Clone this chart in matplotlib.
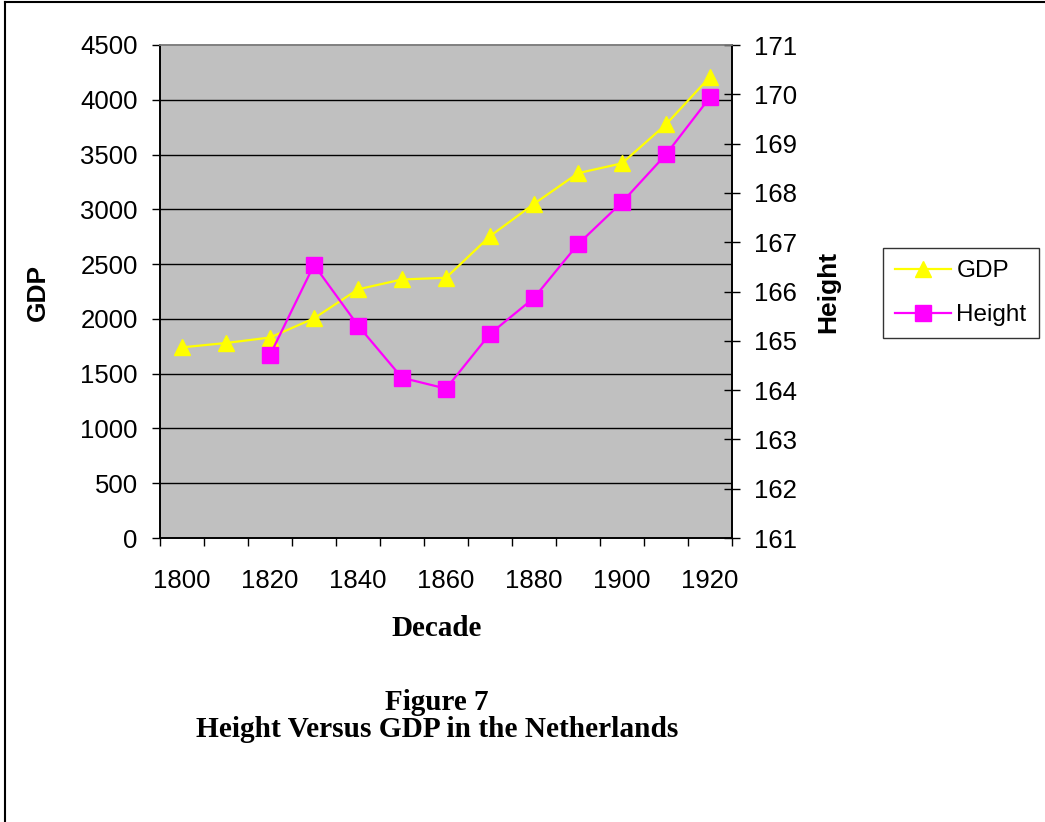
import matplotlib
matplotlib.use('Agg')
import matplotlib.pyplot as plt
from matplotlib.lines import Line2D
import numpy as np

# data
decades = [1800, 1810, 1820, 1830, 1840, 1850, 1860, 1870, 1880, 1890, 1900, 1910, 1920]
gdp = [1740, 1780, 1830, 2005, 2270, 2360, 2375, 2755, 3050, 3330, 3420, 3775, 4210]
height = [np.nan, np.nan, 164.71, 166.54, 165.31, 164.25, 164.03, 165.14, 165.87,
          166.96, 167.81, 168.78, 169.94]
gdp_ticks = list(range(0, 4501, 500))
height_ticks = list(range(161, 172))

W, H = 1045, 822
plt.rcParams['font.family'] = ['Liberation Sans', 'DejaVu Sans']

fig = plt.figure(figsize=(W / 100, H / 100), dpi=100)
fig.patch.set_facecolor('white')

# plot area in pixels: x 160..732, y 45..538
ax = fig.add_axes([160 / W, 1 - 538 / H, 572 / W, 493 / H])
ax.set_facecolor('#C0C0C0')
x = np.arange(len(decades))

ax.set_xlim(-0.5, len(decades) - 0.5)
ax.set_ylim(0, 4500)
ax.set_yticks(gdp_ticks)
ax.set_yticklabels([str(v) for v in gdp_ticks], fontsize=18.5)
for v in gdp_ticks[1:-1]:
    ax.axhline(v, color='black', lw=1.0, zorder=1)

# ticks at category boundaries, labels every other decade at the centres
ax.set_xticks(np.arange(-0.5, len(decades), 1.0))
ax.set_xticklabels([])
ax.set_xticks(x[::2], minor=True)
ax.set_xticklabels([str(d) for d in decades[::2]], minor=True, fontsize=18.5)
ax.tick_params(axis='x', which='major', direction='out', length=6, width=1)
ax.tick_params(axis='x', which='minor', length=0, pad=22)
ax.tick_params(axis='y', direction='out', length=6, width=1, pad=10)

ax.plot(x, gdp, color='#FFFF00', lw=1.6, marker='^', ms=11, mec='#FFFF00',
        zorder=3, clip_on=False)

ax2 = ax.twinx()
ax2.set_ylim(161, 171)
ax2.set_yticks(height_ticks)
ax2.set_yticklabels([str(v) for v in height_ticks], fontsize=18.5)
ax2.tick_params(axis='y', direction='inout', length=12, width=1, pad=10)
ax2.plot(x, height, color='#FF00FF', lw=1.6, marker='s', ms=11, mec='#FF00FF',
         zorder=3, clip_on=False)

for a in (ax, ax2):
    for side in ('left', 'right', 'bottom'):
        a.spines[side].set_color('black')
        a.spines[side].set_linewidth(1.2)
    a.spines['top'].set_color('#808080')
    a.spines['top'].set_linewidth(1.2)

# axis titles
fig.text(38 / W, 1 - 292 / H, 'GDP', rotation=90, ha='center', va='center',
         fontsize=19, fontweight='bold')
fig.text(828 / W, 1 - 292 / H, 'Height', rotation=90, ha='center', va='center',
         fontsize=19, fontweight='bold')
serif = ['Liberation Serif', 'DejaVu Serif']
fig.text(437 / W, 1 - 636 / H, 'Decade', ha='center', va='baseline',
         fontsize=21, fontweight='bold', family=serif)
fig.text(437 / W, 1 - 710 / H, 'Figure 7', ha='center', va='baseline',
         fontsize=21, fontweight='bold', family=serif)
fig.text(437 / W, 1 - 737 / H, 'Height Versus GDP in the Netherlands', ha='center',
         va='baseline', fontsize=21.2, fontweight='bold', family=serif)

# legend
handles = [
    Line2D([], [], color='#FFFF00', lw=1.6, marker='^', ms=11, mec='#FFFF00'),
    Line2D([], [], color='#FF00FF', lw=1.6, marker='s', ms=11, mec='#FF00FF'),
]
leg = fig.legend(handles, ['GDP', 'Height'], loc='upper left',
                 bbox_to_anchor=(883 / W, 1 - 248 / H), borderaxespad=0,
                 fontsize=17.5, frameon=True, fancybox=False, handlelength=2.3,
                 handletextpad=0.22, labelspacing=0.9, borderpad=0.5)
leg.get_frame().set_edgecolor('black')
leg.get_frame().set_linewidth(1.0)

# page border seen on the left and top edges
fig.add_artist(Line2D([4.5 / W, 4.5 / W], [0, 1 - 2.5 / H], color='black', lw=1.5))
fig.add_artist(Line2D([4.5 / W, 1], [1 - 2.5 / H, 1 - 2.5 / H], color='black', lw=1.5))

fig.savefig('out.png', dpi=100)
